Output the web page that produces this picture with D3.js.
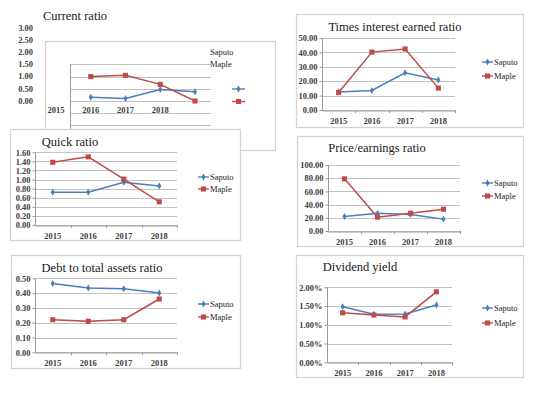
<!doctype html>
<html lang="en">
<head>
<meta charset="utf-8">
<title>Financial ratios</title>
<script src="https://cdnjs.cloudflare.com/ajax/libs/d3/7.8.5/d3.min.js"></script>
<style>
    body { margin: 0; background: #fff; }
    svg text { font-family: "Liberation Serif", "DejaVu Serif", serif; }
    .title { font-size: 12.5px; fill: #1a1a1a; }
    .tick text, .cat { font-size: 8.5px; font-weight: bold; fill: #404040; }
    .leg { font-size: 8.5px; fill: #1e1e1e; }
</style>
</head>
<body>
<div id="chart"></div>
<script>
// categories and series
var years = ["2015", "2016", "2017", "2018"];
var seriesNames = ["Saputo", "Maple"];

// values
var currentSaputo = [0.15, 0.10, 0.47, 0.38];
var currentMaple = [1.00, 1.05, 0.68, 0.00];
var currentTicks = [0, 0.5, 1, 1.5, 2, 2.5, 3];
var currentGrid = [-1, -0.5, 0, 0.5, 1, 1.5];

var timesSaputo = [12.5, 13.6, 25.8, 20.9];
var timesMaple = [12.2, 40.2, 42.4, 15.2];
var timesTicks = [0, 10, 20, 30, 40, 50];

var quickSaputo = [0.72, 0.72, 0.94, 0.86];
var quickMaple = [1.38, 1.50, 1.01, 0.51];
var quickTicks = [0, 0.2, 0.4, 0.6, 0.8, 1.0, 1.2, 1.4, 1.6];

var peSaputo = [22, 27, 25, 18];
var peMaple = [79, 21, 27, 33];
var peTicks = [0, 20, 40, 60, 80, 100];

var debtSaputo = [0.465, 0.435, 0.43, 0.40];
var debtMaple = [0.22, 0.21, 0.22, 0.36];
var debtTicks = [0, 0.1, 0.2, 0.3, 0.4, 0.5];

var divSaputo = [0.0148, 0.0128, 0.0129, 0.0153];
var divMaple = [0.0132, 0.0126, 0.0121, 0.0188];
var divTicks = [0, 0.005, 0.01, 0.015, 0.02];

var BLUE = "#4a7ebb", RED = "#be4b48", GRID = "#c3c3c3", FRAME = "#d4d4d4";

var svg = d3.select("#chart").append("svg")
    .attr("width", 543)
    .attr("height", 404);

function marker(g, type, x, y, color) {
    g.append("path")
        .attr("transform", "translate(" + x + "," + y + ")")
        .attr("d", d3.symbol().type(type === "Saputo" ? d3.symbolDiamond : d3.symbolSquare)
            .size(type === "Saputo" ? 14 : 26)())
        .attr("fill", color);
}

function legend(g, lx, ly, gap) {
    seriesNames.forEach(function(name, i) {
        var color = i === 0 ? BLUE : RED;
        var yy = ly + i * gap;
        g.append("line").attr("x1", lx).attr("x2", lx + 11).attr("y1", yy).attr("y2", yy)
            .attr("stroke", color).attr("stroke-width", 1.4);
        marker(g, name, lx + 5.5, yy, color);
        g.append("text").attr("class", "leg").attr("x", lx + 12).attr("y", yy).attr("dy", "0.33em").text(name);
    });
}

// one excel-style line chart panel
function drawPanel(c) {
    var g = svg.append("g");

    g.append("rect")
        .attr("x", c.frame[0]).attr("y", c.frame[1])
        .attr("width", c.frame[2] - c.frame[0]).attr("height", c.frame[3] - c.frame[1])
        .attr("fill", "#fff").attr("stroke", FRAME).attr("stroke-width", 1.3);

    g.append("text").attr("class", "title")
        .attr("x", c.titleX).attr("y", c.titleY)
        .attr("text-anchor", "middle")
        .text(c.title);

    var y = d3.scaleLinear().domain([0, d3.max(c.ticks)]).range([c.y0, c.y1]);
    var x = d3.scaleBand().domain(years).range([c.x0, c.x1]);

    // gridlines
    g.selectAll(".grid").data(c.ticks).enter().append("line")
        .attr("x1", c.x0).attr("x2", c.x1)
        .attr("y1", function(d) { return Math.round(y(d)) + 0.5; })
        .attr("y2", function(d) { return Math.round(y(d)) + 0.5; })
        .attr("stroke", GRID).attr("stroke-width", 1);

    var ya = g.append("g")
        .attr("transform", "translate(" + (c.x0 + 0.5) + ",0)")
        .call(d3.axisLeft(y).tickValues(c.ticks).tickFormat(d3.format(c.fmt)).tickSize(3).tickPadding(2));
    ya.selectAll("path, line").attr("stroke", "#9a9a9a");
    ya.select(".domain").attr("d", "M0," + c.y0 + "V" + c.y1);

    var xa = g.append("g")
        .attr("transform", "translate(0," + (Math.round(c.y0) + 0.5) + ")")
        .call(d3.axisBottom(x).tickSize(0).tickPadding(c.catPad || 7));
    xa.select(".domain").attr("stroke", "#9a9a9a");

    // tick marks between categories
    g.selectAll(".xt").data(years).enter().append("line")
        .attr("x1", function(d) { return Math.round(x(d) + x.bandwidth()) + 0.5; })
        .attr("x2", function(d) { return Math.round(x(d) + x.bandwidth()) + 0.5; })
        .attr("y1", c.y0).attr("y2", c.y0 + 3)
        .attr("stroke", "#9a9a9a");

    var line = d3.line()
        .x(function(d, i) { return x(years[i]) + x.bandwidth() / 2; })
        .y(function(d) { return y(d); });

    [c.saputo, c.maple].forEach(function(vals, s) {
        var color = s === 0 ? BLUE : RED;
        g.append("path").datum(vals)
            .attr("d", line).attr("fill", "none")
            .attr("stroke", color).attr("stroke-width", 1.5);
        vals.forEach(function(v, i) {
            marker(g, seriesNames[s], x(years[i]) + x.bandwidth() / 2, y(v), color);
        });
    });

    legend(g, c.legX, c.legY, c.legGap);
}

// current ratio: a misaligned screenshot, labels and plot do not line up
(function() {
    var g = svg.append("g");
    g.append("rect").attr("x", 45.5).attr("y", 41.5).attr("width", 230).attr("height", 109)
        .attr("fill", "#fff").attr("stroke", FRAME).attr("stroke-width", 1.3);
    g.append("text").attr("class", "title").attr("x", 75).attr("y", 19.5)
        .attr("text-anchor", "middle").text("Current ratio");

    var y = d3.scaleLinear().domain([0, 3]).range([101, 27.7]);
    var slot = d3.scaleLinear().domain([0, 4]).range([56, 195]);

    // tick labels float to the left, outside the frame
    g.selectAll(".yl").data(currentTicks).enter().append("text")
        .attr("class", "cat")
        .attr("x", 33).attr("y", function(d) { return y(d); })
        .attr("dy", "0.33em").attr("text-anchor", "end")
        .text(d3.format(".2f"));

    g.selectAll(".grid").data(currentGrid).enter().append("line")
        .attr("x1", 70).attr("x2", 211)
        .attr("y1", function(d) { return Math.round(y(d)) + 0.5; })
        .attr("y2", function(d) { return Math.round(y(d)) + 0.5; })
        .attr("stroke", GRID);
    g.append("line").attr("x1", 70.5).attr("x2", 70.5).attr("y1", y(1.5)).attr("y2", 130)
        .attr("stroke", "#9a9a9a");

    g.selectAll(".xl").data(years).enter().append("text")
        .attr("class", "cat")
        .attr("x", function(d, i) { return slot(i); })
        .attr("y", 110).attr("dy", "0.33em").attr("text-anchor", "middle")
        .text(function(d) { return d; });

    var line = d3.line()
        .x(function(d, i) { return slot(i + 1); })
        .y(function(d) { return y(d); });

    [currentSaputo, currentMaple].forEach(function(vals, s) {
        var color = s === 0 ? BLUE : RED;
        g.append("path").datum(vals).attr("d", line).attr("fill", "none")
            .attr("stroke", color).attr("stroke-width", 1.5);
        vals.forEach(function(v, i) { marker(g, seriesNames[s], slot(i + 1), y(v), color); });
    });

    // legend text and keys came apart
    seriesNames.forEach(function(name, i) {
        var color = i === 0 ? BLUE : RED;
        g.append("text").attr("class", "leg").attr("x", 210).attr("y", 52 + i * 12.5)
            .attr("dy", "0.33em").text(name);
        var ly = 89 + i * 12.5;
        g.append("line").attr("x1", 232).attr("x2", 245).attr("y1", ly).attr("y2", ly)
            .attr("stroke", color).attr("stroke-width", 1.4);
        marker(g, name, 238.5, ly, color);
    });
})();

drawPanel({
    title: "Times interest earned ratio", titleX: 395, titleY: 31,
    frame: [296.5, 14.5, 523.5, 127.5],
    x0: 322, x1: 455, y0: 110, y1: 38,
    ticks: timesTicks, fmt: ".2f",
    saputo: timesSaputo, maple: timesMaple,
    legX: 482, legY: 62, legGap: 14
});

drawPanel({
    title: "Quick ratio", titleX: 70, titleY: 146,
    frame: [10.5, 129.5, 240.5, 240.5],
    x0: 35, x1: 177, y0: 225, y1: 152.3,
    ticks: quickTicks, fmt: ".2f",
    saputo: quickSaputo, maple: quickMaple,
    legX: 198, legY: 177, legGap: 12
});

drawPanel({
    title: "Price/earnings ratio", titleX: 377, titleY: 152,
    frame: [297.5, 136.5, 523.5, 246.5],
    x0: 328, x1: 460, y0: 231, y1: 165,
    ticks: peTicks, fmt: ".2f",
    saputo: peSaputo, maple: peMaple,
    legX: 482, legY: 183, legGap: 13
});

drawPanel({
    title: "Debt to total assets ratio", titleX: 102, titleY: 272,
    frame: [11.5, 255.5, 240.5, 368.5],
    x0: 35, x1: 177, y0: 352.3, y1: 278.3,
    ticks: debtTicks, fmt: ".2f",
    saputo: debtSaputo, maple: debtMaple,
    legX: 198, legY: 304, legGap: 13
});

drawPanel({
    title: "Dividend yield", titleX: 360, titleY: 271,
    frame: [296.5, 255.5, 523.5, 377.5],
    x0: 327, x1: 452, y0: 362.3, y1: 287.3,
    ticks: divTicks, fmt: ".2%",
    saputo: divSaputo, maple: divMaple,
    legX: 482, legY: 308, legGap: 15
});
</script>
</body>
</html>
